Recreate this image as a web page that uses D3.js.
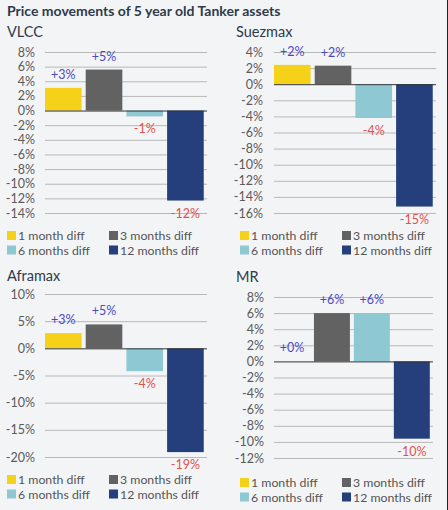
<!DOCTYPE html>
<html><head><meta charset="utf-8">
<script src="https://cdn.jsdelivr.net/npm/d3@7/dist/d3.min.js"></script>
<style>
html,body{margin:0;padding:0;background:#f3f4f6;}
svg{display:block;font-family:Lato,"Open Sans",sans-serif;}
</style></head>
<body><svg id="chart" width="448" height="510"></svg>
<script>
const title = "Price movements of 5 year old Tanker assets";
const categories = ["1 month diff","3 months diff","6 months diff","12 months diff"];
const colors = ["#f6d11a","#626262","#8dc8d3","#243f7b"];

const panelNames = ["VLCC","Suezmax","Aframax","MR"];
const vlccValues = [3.1, 5.6, -0.8, -12.3];
const suezmaxValues = [2.4, 2.3, -4.2, -15.2];
const aframaxValues = [2.8, 4.4, -4.2, -19.1];
const mrValues = [0.0, 6.0, 6.0, -9.6];

const vlccLabels = ["+3%","+5%","-1%","-12%"];
const suezmaxLabels = ["+2%","+2%","-4%","-15%"];
const aframaxLabels = ["+3%","+5%","-4%","-19%"];
const mrLabels = ["+0%","+6%","+6%","-10%"];

const vlccTicks = [8,6,4,2,0,-2,-4,-6,-8,-10,-12,-14];
const suezmaxTicks = [4,2,0,-2,-4,-6,-8,-10,-12,-14,-16];
const aframaxTicks = [10,5,0,-5,-10,-15,-20];
const mrTicks = [8,6,4,2,0,-2,-4,-6,-8,-10,-12];

const panels = [
  {name:panelNames[0], values:vlccValues, labels:vlccLabels, ticks:vlccTicks,
   tx:7, ty:37, left:45, right:207, top:52, bottom:213, axisX:35, legY:240, legX:[7,109]},
  {name:panelNames[1], values:suezmaxValues, labels:suezmaxLabels, ticks:suezmaxTicks,
   tx:236, ty:37, left:274, right:436, top:52, bottom:213, axisX:263, legY:240, legX:[240,342]},
  {name:panelNames[2], values:aframaxValues, labels:aframaxLabels, ticks:aframaxTicks,
   tx:7, ty:281, left:45, right:207, top:294, bottom:457, axisX:35, legY:484, legX:[7,109]},
  {name:panelNames[3], values:mrValues, labels:mrLabels, ticks:mrTicks,
   tx:236, ty:282, left:274, right:433, top:297, bottom:458, axisX:264, legY:487, legX:[240,342]}
];

const svg = d3.select("#chart");
svg.append("rect").attr("width",448).attr("height",510).attr("fill","#f3f4f6");
svg.append("line").attr("x1",447.5).attr("x2",447.5).attr("y1",0).attr("y2",510).attr("stroke","#222").attr("stroke-width",1);

svg.append("text").attr("x",7).attr("y",16).attr("font-size",14).attr("font-weight","bold")
  .attr("fill","#2f3b4a").text(title);

panels.forEach(p => {
  const g = svg.append("g");
  g.append("text").attr("x",p.tx).attr("y",p.ty).attr("font-size",14.5).attr("fill","#2f3b4a").text(p.name);

  const y = d3.scaleLinear().domain([d3.min(p.ticks), d3.max(p.ticks)]).range([p.bottom, p.top]);
  const x = d3.scaleBand().domain(categories).range([p.left, p.right]).paddingInner(0.1).paddingOuter(0.04).align(0);

  // gridlines
  g.selectAll("line.grid").data(p.ticks.filter(t => t !== 0)).join("line")
    .attr("x1",p.left).attr("x2",p.right)
    .attr("y1",d=>y(d)+0.5).attr("y2",d=>y(d)+0.5)
    .attr("stroke","#b8b8b8").attr("stroke-width",1);

  // axis labels
  const axis = d3.axisLeft(y).tickValues(p.ticks).tickSize(0).tickPadding(0).tickFormat(d => d + "%");
  const ag = g.append("g").attr("transform",`translate(${p.axisX},0)`).call(axis);
  ag.select(".domain").remove();
  ag.selectAll("text").attr("font-size",12.5).attr("fill","#5a5a5a").attr("font-family","Lato,sans-serif");

  // bars
  g.selectAll("rect.bar").data(p.values).join("rect")
    .attr("x",(d,i)=>x(categories[i]))
    .attr("width",x.bandwidth())
    .attr("y",d=>y(Math.max(0,d)))
    .attr("height",d=>Math.abs(y(d)-y(0)))
    .attr("fill",(d,i)=>colors[i]);

  // zero line
  g.append("line").attr("x1",p.left).attr("x2",p.right)
    .attr("y1",y(0)+0.5).attr("y2",y(0)+0.5).attr("stroke","#333").attr("stroke-width",1);

  // value labels
  g.selectAll("text.val").data(p.values).join("text")
    .attr("x",(d,i)=>x(categories[i])+x.bandwidth()/2)
    .attr("y",d=> d>=0 ? y(d)-9 : y(d)+17)
    .attr("text-anchor","middle").attr("font-size",12.5)
    .attr("fill",(d,i)=> p.labels[i].startsWith("-") ? "#e0534d" : "#4a4ac4")
    .text((d,i)=>p.labels[i]);

  // legend
  categories.forEach((c,i) => {
    const lx = p.legX[i%2], ly = p.legY + Math.floor(i/2)*14.5;
    g.append("rect").attr("x",lx).attr("y",ly-9).attr("width",9).attr("height",9).attr("fill",colors[i]);
    g.append("text").attr("x",lx+11).attr("y",ly).attr("font-size",12.3).attr("fill","#555").text(c);
  });
});
</script></body></html>
